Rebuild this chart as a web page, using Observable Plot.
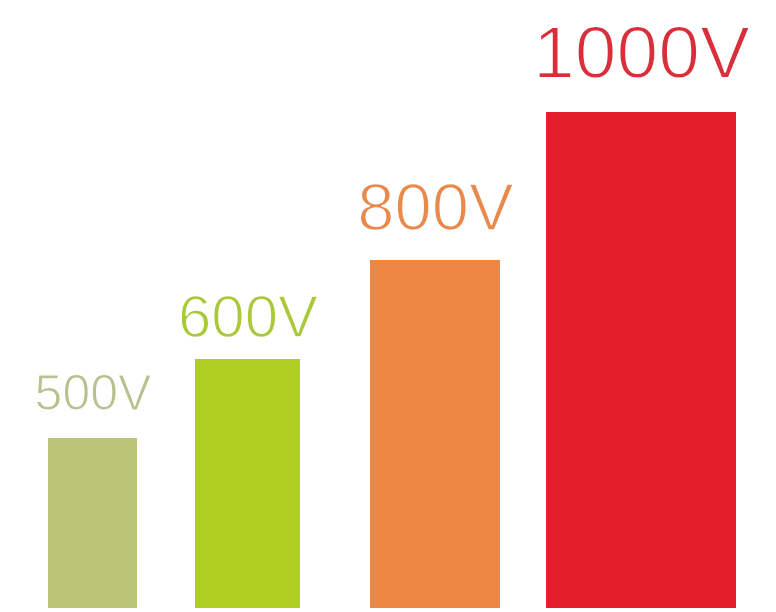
<!DOCTYPE html>
<html>
<head>
<meta charset="utf-8">
<script src="https://cdn.jsdelivr.net/npm/d3@7"></script>
<script src="https://cdn.jsdelivr.net/npm/@observablehq/plot@0.6"></script>
<style>
  html, body { margin: 0; padding: 0; background: #ffffff; overflow: hidden; }
  #chart svg { display: block; }
</style>
</head>
<body>
<div id="chart"></div>
<script>
// Categories and values (bar heights in px-like units)
const labels = ["500V", "600V", "800V", "1000V"];
const heights = [170, 249, 348, 496];
// Horizontal extent of each bar (x units on a 0–776 scale)
const barStart = [48, 195, 370, 546];
const barEnd = [137, 300, 500, 736];
const barColors = ["#bbc576", "#aece22", "#ef8744", "#e41f2b"];
const textColors = ["#b7c08e", "#a9c83a", "#e98a4c", "#d92f3b"];
const labelSizes = [50, 60, 67, 75];
const labelGaps = [29, 23, 31, 35];

const data = labels.map((l, i) => ({
  label: l,
  h: heights[i],
  x1: barStart[i],
  x2: barEnd[i],
  fill: barColors[i],
  tfill: textColors[i],
  size: labelSizes[i],
  gap: labelGaps[i]
}));

const chart = Plot.plot({
  width: 776,
  height: 612,
  marginTop: 0,
  marginRight: 0,
  marginLeft: 0,
  marginBottom: 4,
  x: {domain: [0, 776], axis: null},
  y: {domain: [0, 608], axis: null},
  color: {type: "identity"},
  style: {background: "#ffffff"},
  marks: [
    Plot.rectY(data, {x1: "x1", x2: "x2", y1: 0, y2: "h", fill: "fill"}),
    ...data.map(d => Plot.text([d], {
      x: e => (e.x1 + e.x2) / 2,
      y: "h",
      text: "label",
      fill: "tfill",
      stroke: "#ffffff",
      strokeWidth: d.size * 0.024,
      paintOrder: "normal",
      fontSize: d.size,
      lineAnchor: "bottom",
      dy: -d.gap,
      fontFamily: "Liberation Sans, Arial, sans-serif"
    }))
  ]
});
document.getElementById("chart").appendChild(chart);
</script>
</body>
</html>
